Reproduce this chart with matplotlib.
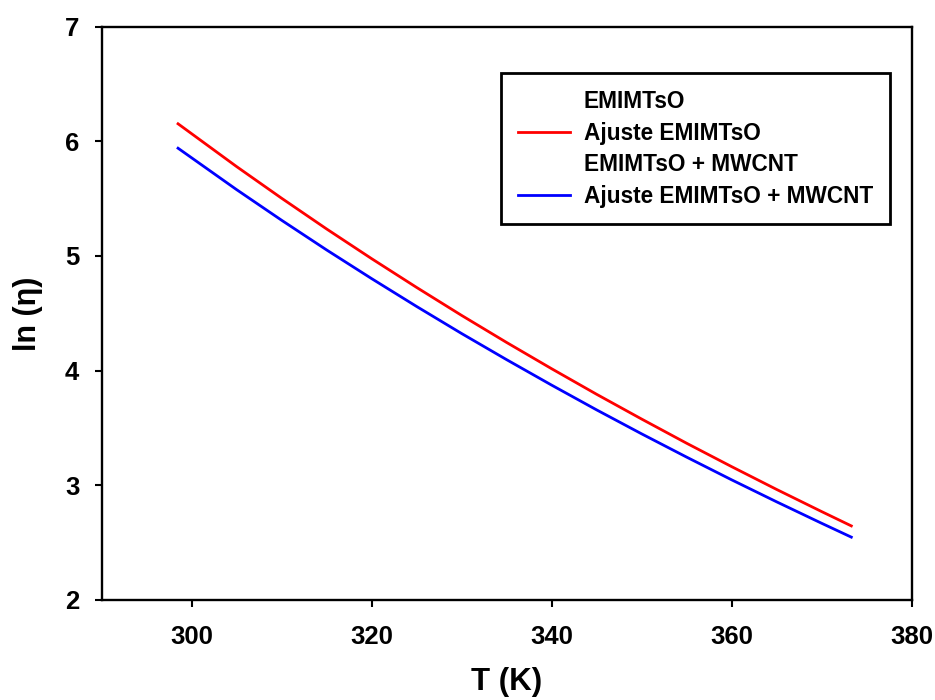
import matplotlib
matplotlib.use("Agg")
import matplotlib.pyplot as plt
from matplotlib.lines import Line2D

plt.rcParams['font.family'] = ['Liberation Sans', 'DejaVu Sans']
plt.rcParams['font.weight'] = 'bold'

# Temperature (K) and ln(viscosity)
T_fit = [298.5, 305, 310, 315, 320, 325, 330, 335, 340, 345, 350, 355, 360, 365, 370, 373.3]
ln_eta_emim = [6.153, 5.780, 5.504, 5.236, 4.977, 4.726, 4.482, 4.246, 4.017,
               3.794, 3.578, 3.367, 3.163, 2.964, 2.771, 2.646]
ln_eta_mwcnt = [5.940, 5.579, 5.312, 5.053, 4.803, 4.560, 4.324, 4.096, 3.874,
                3.658, 3.449, 3.246, 3.048, 2.856, 2.669, 2.548]

labels = ['EMIMTsO', 'Ajuste EMIMTsO', 'EMIMTsO + MWCNT', 'Ajuste EMIMTsO + MWCNT']

fig = plt.figure(figsize=(9.35, 7.0), dpi=100)
ax = fig.add_axes([0.1086, 0.1429, 0.8664, 0.819])

ax.plot(T_fit, ln_eta_emim, color='#ff0000', lw=2.0)
ax.plot(T_fit, ln_eta_mwcnt, color='#0000ff', lw=2.0)

ax.set_xlim(290, 380)
ax.set_ylim(2, 7)
ax.set_xticks([300, 320, 340, 360, 380])
ax.set_yticks([2, 3, 4, 5, 6, 7])

for s in ax.spines.values():
    s.set_linewidth(1.7)
ax.tick_params(direction='out', length=5, width=1.5, labelsize=18.5)
ax.tick_params(axis='x', pad=13)
ax.tick_params(axis='y', pad=11)
for lbl in ax.get_xticklabels() + ax.get_yticklabels():
    lbl.set_fontweight('bold')

ax.set_xlabel('T (K)', fontsize=22.5, fontweight='bold', labelpad=13)
ax.set_ylabel('ln (η)', fontsize=22, fontweight='bold', labelpad=16)

# data-point entries have no visible marker in the original legend
handles = [
    Line2D([], [], linestyle='none'),
    Line2D([], [], color='#ff0000', lw=2.0),
    Line2D([], [], linestyle='none'),
    Line2D([], [], color='#0000ff', lw=2.0),
]
leg = ax.legend(handles, labels, loc='upper right', bbox_to_anchor=(0.9735, 0.9185),
                borderaxespad=0, fancybox=False, framealpha=1, edgecolor='black',
                prop={'size': 16.3, 'weight': 'bold'}, handlelength=2.3,
                handletextpad=0.6, borderpad=0.75, labelspacing=0.37)
leg.get_frame().set_linewidth(2.0)

fig.savefig('out.png', dpi=100)
